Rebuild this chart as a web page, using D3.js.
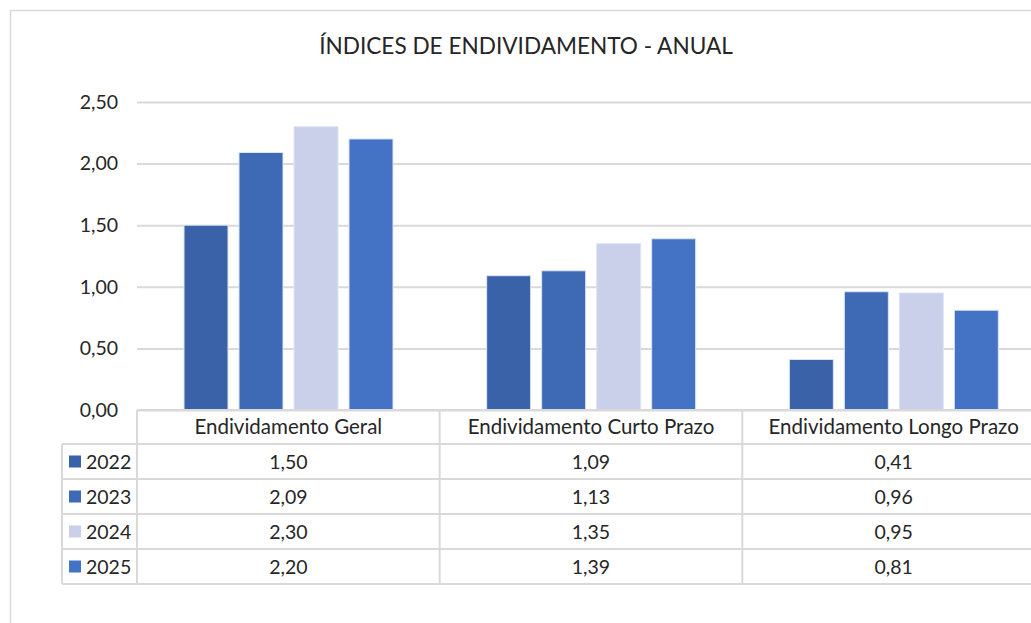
<!DOCTYPE html>
<html>
<head>
<meta charset="utf-8">
<script src="https://cdn.jsdelivr.net/npm/d3@7"></script>
<style>
  body { margin: 0; background: #fff; }
  text { font-family: Lato, "Liberation Sans", sans-serif; fill: #262626; }
</style>
</head>
<body>
<div id="chart"></div>
<script>
// data
let categories = ['Endividamento Geral', 'Endividamento Curto Prazo', 'Endividamento Longo Prazo'];
let years = ['2022', '2023', '2024', '2025'];
let values2022 = [1.50, 1.09, 0.41];
let values2023 = [2.09, 1.13, 0.96];
let values2024 = [2.30, 1.35, 0.95];
let values2025 = [2.20, 1.39, 0.81];
let yTicks = [0, 0.5, 1, 1.5, 2, 2.5];
let colors = ['#3a62a8', '#3e69b5', '#cad0e9', '#4472c4'];

let series = [values2022, values2023, values2024, values2025];

let config = {
    width: 1031, height: 623,
    plot: { left: 137, right: 1045, top: 102, bottom: 410 },
    table: { left: 62, rowH: 35, headH: 34 }
};

let svg = d3.select('#chart').append('svg')
    .attr('width', config.width)
    .attr('height', config.height);

// outer chart frame
svg.append('rect')
    .attr('x', 10.5).attr('y', 10.5)
    .attr('width', 1100).attr('height', 700)
    .attr('fill', 'none').attr('stroke', '#d9d9d9').attr('stroke-width', 1.5);

// title
svg.append('text')
    .attr('x', 526).attr('y', 54)
    .attr('text-anchor', 'middle')
    .style('font-size', '22.6px')
    .text('ÍNDICES DE ENDIVIDAMENTO - ANUAL');

let x = d3.scaleBand()
    .domain(categories)
    .range([config.plot.left, config.plot.right])
    .padding(0);

let xInner = d3.scaleBand()
    .domain(years)
    .range([47, 256])
    .paddingInner(0.2)
    .paddingOuter(0);

let y = d3.scaleLinear()
    .domain([0, 2.5])
    .range([config.plot.bottom, config.plot.top]);

let fmt = (v) => d3.format('.2f')(v).replace('.', ',');

// gridlines + tick labels
let yAxis = svg.append('g')
    .attr('transform', translate(config.plot.left, 0))
    .call(d3.axisLeft(y).tickValues(yTicks).tickFormat(fmt)
        .tickSize(-(config.width - config.plot.left)).tickPadding(19));
yAxis.select('.domain').remove();
yAxis.selectAll('.tick line').attr('stroke', '#d9d9d9').attr('stroke-width', 2);
yAxis.selectAll('.tick text').style('font-size', '19.5px').attr('fill', '#262626')
    .attr('font-family', null);

// bars
let groups = svg.selectAll('.cat')
    .data(categories)
    .enter()
    .append('g')
        .attr('class', 'cat')
        .attr('transform', (d) => translate(x(d), 0));

groups.selectAll('rect')
    .data((d, i) => years.map((yr, j) => ({ year: yr, value: series[j][i], c: colors[j] })))
    .enter()
    .append('rect')
        .attr('x', (d) => xInner(d.year))
        .attr('y', (d) => y(d.value))
        .attr('width', xInner.bandwidth())
        .attr('height', (d) => y(0) - y(d.value))
        .attr('fill', (d) => d.c)
        .attr('stroke', '#dde5f4')
        .attr('stroke-width', 1);

// data table
let t = config.table;
let rowY = (i) => config.plot.bottom + t.headH + i * t.rowH;
let lineColor = '#d9d9d9';
let tg = svg.append('g').attr('class', 'table');

// horizontal lines
tg.append('line')
    .attr('x1', config.plot.left).attr('x2', config.width + 20)
    .attr('y1', config.plot.bottom).attr('y2', config.plot.bottom)
    .attr('stroke', lineColor).attr('stroke-width', 2);
d3.range(years.length + 1).forEach((i) => {
    tg.append('line')
        .attr('x1', t.left).attr('x2', config.width + 20)
        .attr('y1', rowY(i)).attr('y2', rowY(i))
        .attr('stroke', lineColor).attr('stroke-width', 2);
});
// vertical lines
tg.append('line')
    .attr('x1', t.left).attr('x2', t.left)
    .attr('y1', rowY(0)).attr('y2', rowY(years.length))
    .attr('stroke', lineColor).attr('stroke-width', 2);
categories.concat(['end']).forEach((c, i) => {
    let xx = i < categories.length ? x(c) : config.plot.right;
    tg.append('line')
        .attr('x1', xx).attr('x2', xx)
        .attr('y1', config.plot.bottom).attr('y2', rowY(years.length))
        .attr('stroke', lineColor).attr('stroke-width', 2);
});

// header labels
tg.selectAll('.head')
    .data(categories)
    .enter()
    .append('text')
        .attr('class', 'head')
        .attr('x', (d) => x(d) + x.bandwidth() / 2)
        .attr('y', config.plot.bottom + t.headH / 2 + 7)
        .attr('text-anchor', 'middle')
        .style('font-size', '20.5px')
        .text((d) => d);

// legend keys + year labels
years.forEach((yr, j) => {
    let cy = rowY(j) + t.rowH / 2;
    tg.append('rect')
        .attr('x', 69).attr('y', cy - 6)
        .attr('width', 12).attr('height', 12)
        .attr('fill', colors[j]);
    tg.append('text')
        .attr('x', 86).attr('y', cy + 7)
        .style('font-size', '19.5px')
        .text(yr);
    categories.forEach((c, i) => {
        tg.append('text')
            .attr('x', x(c) + x.bandwidth() / 2)
            .attr('y', cy + 7)
            .attr('text-anchor', 'middle')
            .style('font-size', '19.5px')
            .text(fmt(series[j][i]));
    });
});

// helper method to make translating easier
function translate(x, y) {
    return 'translate(' + x + ',' + y + ')';
}
</script>
</body>
</html>
